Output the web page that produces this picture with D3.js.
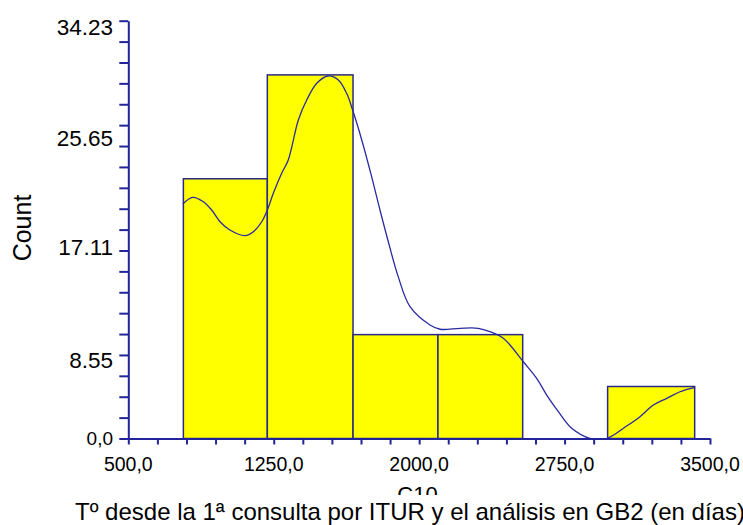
<!DOCTYPE html>
<html>
<head>
<meta charset="utf-8">
<script src="https://cdn.jsdelivr.net/npm/d3@7"></script>
<style>
  body { margin: 0; background: #fff; }
  svg { display: block; }
  text { font-family: "Liberation Sans", Arial, sans-serif; fill: #000; }
</style>
</head>
<body>
<div id="chart"></div>
<script>

// histogram bins (edges) and bar heights
var binEdges = [784, 1217, 1659, 2097, 2534, 2972, 3421];
var binValues = [21.28, 29.79, 8.51, 8.51, 0, 4.26];

// smooth density curve
var curveX = [781, 832, 887, 930, 973, 1024, 1102, 1145, 1188, 1217, 1248, 1291, 1325,
    1377, 1420, 1472, 1531, 1583, 1626, 1657, 1704, 1755, 1798, 1841, 1892, 1953,
    2056, 2108, 2211, 2305, 2365, 2434, 2537, 2606, 2658, 2718, 2778, 2855, 2881,
    2967, 3070, 3139, 3208, 3277, 3345, 3423];
var curveY = [19.21, 19.76, 19.40, 18.72, 17.76, 17.08, 16.62, 16.94, 17.76, 18.72, 20.09, 21.73, 22.82,
    26.09, 27.73, 29.10, 29.70, 29.37, 28.28, 26.91, 24.46, 21.45, 18.72, 16.12, 13.26, 10.80,
    9.30, 8.95, 9.03, 9.03, 8.75, 8.21, 6.29, 4.93, 3.56, 2.20, 0.97, 0.15, 0,
    0, 1.02, 1.79, 2.74, 3.29, 3.83, 4.19];

// axes
var xDomain = [500, 3500];
var yDomain = [0, 34.23];
var xLabels = [500, 1250, 2000, 2750, 3500];
var yLabels = [0, 8.55, 17.11, 25.65, 34.23];
var yLabelText = ['0,0', '8.55', '17.11', '25.65', '34.23'];

var yTitle = 'Count';
var xTitle = 'C10';
var xSubTitle = 'T\u00ba desde la 1\u00aa consulta por ITUR y el an\u00e1lisis  en GB2 (en d\u00edas)';

var width = 743, height = 525;
var axisColor = '#24249a';

var svg = d3.select('#chart').append('svg')
    .attr('width', width)
    .attr('height', height);

var x = d3.scaleLinear().domain(xDomain).range([128.3, 710]);
var y = d3.scaleLinear().domain(yDomain).range([438.5, 20.7]);

/////// BARS
var bars = binValues.map(function (v, i) {
    return {x0: binEdges[i], x1: binEdges[i + 1], value: v};
}).filter(function (d) { return d.value > 0; });

svg.append('g').selectAll('rect')
    .data(bars)
    .enter()
    .append('rect')
    .attr('x', function (d) { return x(d.x0); })
    .attr('y', function (d) { return y(d.value); })
    .attr('width', function (d) { return x(d.x1) - x(d.x0); })
    .attr('height', function (d) { return y(0) - y(d.value); })
    .attr('fill', '#ffff00')
    .attr('stroke', '#2a2a86')
    .attr('stroke-width', 1.5);

/////// CURVE
var pts = curveX.map(function (v, i) { return [v, curveY[i]]; });
var line = d3.line()
    .x(function (d) { return x(d[0]); })
    .y(function (d) { return Math.min(y(0), y(d[1])); })
    .curve(d3.curveCatmullRom.alpha(0.5));

svg.append('path')
    .datum(pts)
    .attr('d', line)
    .attr('fill', 'none')
    .attr('stroke', '#2a2aa0')
    .attr('stroke-width', 1.3);

/////// AXES
var xTicks = d3.range(21).map(function (i) { return 500 + i * 150; });
var yTicks = d3.range(21).map(function (i) { return i * 34.23 / 20; });

var gX = svg.append('g')
    .attr('transform', 'translate(0,' + y(0) + ')')
    .call(d3.axisBottom(x).tickValues(xTicks).tickSize(6).tickSizeOuter(0).tickFormat(''));

var gY = svg.append('g')
    .attr('transform', 'translate(' + x(500) + ',0)')
    .call(d3.axisLeft(y).tickValues(yTicks).tickSize(9).tickSizeOuter(0).tickFormat(''));

[gX, gY].forEach(function (g) {
    g.selectAll('path, line').attr('stroke', axisColor).attr('stroke-width', 2);
});

// x tick labels
svg.append('g').selectAll('text')
    .data(xLabels)
    .enter()
    .append('text')
    .attr('x', function (d) { return x(d); })
    .attr('y', 471)
    .attr('text-anchor', 'middle')
    .style('font-size', '19.5px')
    .text(function (d) { return d3.format('.1f')(d).replace('.', ','); });

// y tick labels (the original drops them a little below their ticks)
var yLabelShift = [0, 25.5, 17.4, 12.3, 6];
svg.append('g').selectAll('text')
    .data(yLabels)
    .enter()
    .append('text')
    .attr('x', 113)
    .attr('y', function (d, i) { return y(d) + yLabelShift[i]; })
    .attr('dy', '0.35em')
    .attr('text-anchor', 'end')
    .style('font-size', function (d, i) { return i === 0 ? '19px' : '22.5px'; })
    .text(function (d, i) { return yLabelText[i]; });

/////// TITLES
svg.append('text')
    .attr('transform', 'translate(22,228) rotate(-90)')
    .attr('text-anchor', 'middle')
    .attr('dy', '0.35em')
    .style('font-size', '25px')
    .text(yTitle);

svg.append('text')
    .attr('x', 417.5)
    .attr('y', 502)
    .attr('text-anchor', 'middle')
    .style('font-size', '22px')
    .text(xTitle);

// second title line sits on a white box that hides the bottom of C10
svg.append('rect')
    .attr('x', 68)
    .attr('y', 495)
    .attr('width', width - 68)
    .attr('height', height - 495)
    .attr('fill', '#fff');

svg.append('text')
    .attr('x', 75)
    .attr('y', 520)
    .style('font-size', '24px')
    .text(xSubTitle);

</script>
</body>
</html>
